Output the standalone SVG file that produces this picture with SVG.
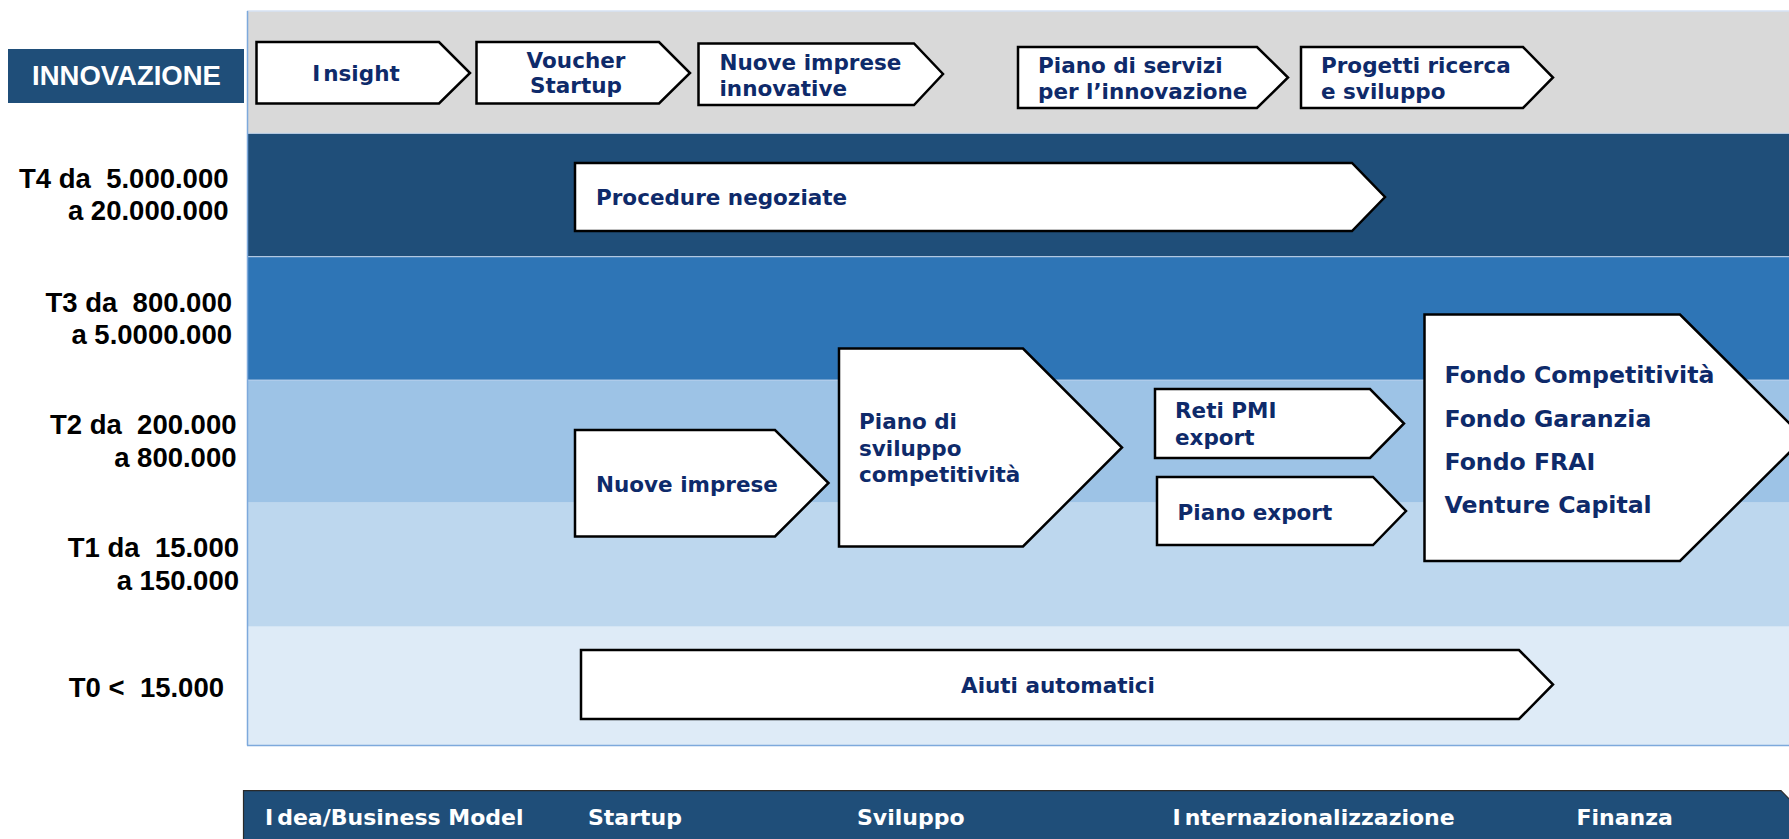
<svg xmlns="http://www.w3.org/2000/svg" width="1789" height="839" viewBox="0 0 1789 839">
<style>
.lbl{font-family:"Liberation Sans",Arial,sans-serif;font-weight:bold;font-size:27.5px;fill:#000;text-anchor:end;white-space:pre}
.node{fill:#fff;stroke:#000;stroke-width:2.5;stroke-linejoin:miter}
.nt{font-family:"DejaVu Sans",Verdana,sans-serif;font-weight:bold;font-size:21.5px;fill:#0E2A6A}
.ft{font-family:"DejaVu Sans",Verdana,sans-serif;font-weight:bold;font-size:23.6px;fill:#0E2A6A}
.bt{font-family:"DejaVu Sans",Verdana,sans-serif;font-weight:bold;font-size:22px;fill:#fff}
.sep{stroke:#C9DAF0;stroke-width:1.2;opacity:0.8}
</style>
<g id="bands">
<rect x="247" y="11" width="1542" height="122.3" fill="#D9D9D9"/>
<rect x="247" y="133.3" width="1542" height="123.4" fill="#1F4E79"/>
<rect x="247" y="256.7" width="1542" height="123.3" fill="#2E75B6"/>
<rect x="247" y="380" width="1542" height="122.7" fill="#9DC3E6"/>
<rect x="247" y="502.7" width="1542" height="124" fill="#BDD7EE"/>
<rect x="247" y="626.7" width="1542" height="118.3" fill="#DEEBF7"/>
<line class="sep" x1="247" y1="133.3" x2="1789" y2="133.3"/>
<line class="sep" x1="247" y1="256.7" x2="1789" y2="256.7"/>
<line class="sep" x1="247" y1="380" x2="1789" y2="380"/>
<line x1="247" y1="11" x2="1789" y2="11" stroke="#D6E2F3" stroke-width="1.5"/>
<line x1="247.5" y1="11" x2="247.5" y2="745.5" stroke="#7DA9DC" stroke-width="1.5"/>
<line x1="247" y1="745.5" x2="1789" y2="745.5" stroke="#7DA9DC" stroke-width="1.5"/>
</g>
<g id="innovazione">
<rect x="8" y="49" width="236" height="54" fill="#1F4E79"/>
<text x="126.5" y="85" font-family="Liberation Sans, Arial, sans-serif" font-weight="bold" font-size="27.5" fill="#fff" text-anchor="middle">INNOVAZIONE</text>
</g>
<g id="row-labels">
<text class="lbl" x="228.5" y="188" xml:space="preserve">T4 da  5.000.000</text>
<text class="lbl" x="228.5" y="220">a 20.000.000</text>
<text class="lbl" x="232" y="311.5" xml:space="preserve">T3 da  800.000</text>
<text class="lbl" x="232" y="344">a 5.0000.000</text>
<text class="lbl" x="236.5" y="434" xml:space="preserve">T2 da  200.000</text>
<text class="lbl" x="236.5" y="467">a 800.000</text>
<text class="lbl" x="239" y="557" xml:space="preserve">T1 da  15.000</text>
<text class="lbl" x="239" y="590">a 150.000</text>
<text class="lbl" x="224" y="696.5" xml:space="preserve">T0 &lt;  15.000</text>
</g>
<g id="n-insight">
<polygon class="node" points="256.5,42 439,42 470,73 439,103.5 256.5,103.5"/>
<text class="nt" x="356" y="81" text-anchor="middle">I<tspan dx="3">nsight</tspan></text>
</g>
<g id="n-voucher">
<polygon class="node" points="476.5,42 659,42 690,73 659,103.5 476.5,103.5"/>
<text class="nt" x="576" y="68" text-anchor="middle">Voucher</text>
<text class="nt" x="576" y="93" text-anchor="middle">Startup</text>
</g>
<g id="n-nuove-innovative">
<polygon class="node" points="698.5,43.5 914,43.5 943,74 914,105 698.5,105"/>
<text class="nt" x="719.5" y="70">Nuove imprese</text>
<text class="nt" x="719.5" y="96">innovative</text>
</g>
<g id="n-piano-servizi">
<polygon class="node" points="1018,47 1257,47 1288,77.5 1257,108 1018,108"/>
<text class="nt" x="1038" y="73">Piano di servizi</text>
<text class="nt" x="1038" y="99">per l’innovazione</text>
</g>
<g id="n-progetti">
<polygon class="node" points="1301,47 1523,47 1553,77.5 1523,108 1301,108"/>
<text class="nt" x="1321" y="73">Progetti ricerca</text>
<text class="nt" x="1321" y="99">e sviluppo</text>
</g>
<g id="n-procedure">
<polygon class="node" points="575,163 1352,163 1385,197 1352,231 575,231"/>
<text class="nt" x="596" y="205">Procedure negoziate</text>
</g>
<g id="n-nuove-imprese">
<polygon class="node" points="575,430 775,430 828.5,483 775,536.5 575,536.5"/>
<text class="nt" x="596" y="491.5">Nuove imprese</text>
</g>
<g id="n-piano-sviluppo">
<polygon class="node" points="839,348.5 1023,348.5 1122,447.5 1023,546.5 839,546.5"/>
<text class="nt" x="859" y="429">Piano di</text>
<text class="nt" x="859" y="455.5">sviluppo</text>
<text class="nt" x="859" y="481.5">competitività</text>
</g>
<g id="n-reti-pmi">
<polygon class="node" points="1155,389 1370,389 1404,423.5 1370,458 1155,458"/>
<text class="nt" x="1175" y="418">Reti PMI</text>
<text class="nt" x="1175" y="445">export</text>
</g>
<g id="n-piano-export">
<polygon class="node" points="1157,477 1373,477 1406,511 1373,545 1157,545"/>
<text class="nt" x="1177.5" y="520">Piano export</text>
</g>
<g id="n-fondi">
<polygon class="node" points="1424.5,314.5 1680,314.5 1804,438 1680,561 1424.5,561"/>
<text class="ft" x="1444.5" y="383">Fondo Competitività</text>
<text class="ft" x="1444.5" y="426.5">Fondo Garanzia</text>
<text class="ft" x="1444.5" y="469.5">Fondo FRAI</text>
<text class="ft" x="1444.5" y="513">Venture Capital</text>
</g>
<g id="n-aiuti">
<polygon class="node" points="581,650 1519,650 1553,684.5 1519,719 581,719"/>
<text class="nt" x="1058" y="693" text-anchor="middle">Aiuti automatici</text>
</g>
<g id="phases">
<polygon points="243.5,790.7 1781,790.7 1840,850 243.5,850" fill="#1F4E79" stroke="#2A2A2A" stroke-width="1.2"/>
<text class="bt" x="265" y="825">I<tspan dx="4">dea/Business Model</tspan></text>
<text class="bt" x="588" y="825">Startup</text>
<text class="bt" x="857" y="825">Sviluppo</text>
<text class="bt" x="1172.5" y="825">I<tspan dx="4">nternazionalizzazione</tspan></text>
<text class="bt" x="1576.5" y="825">Finanza</text>
</g>
<g id="connectors"/>
</svg>
